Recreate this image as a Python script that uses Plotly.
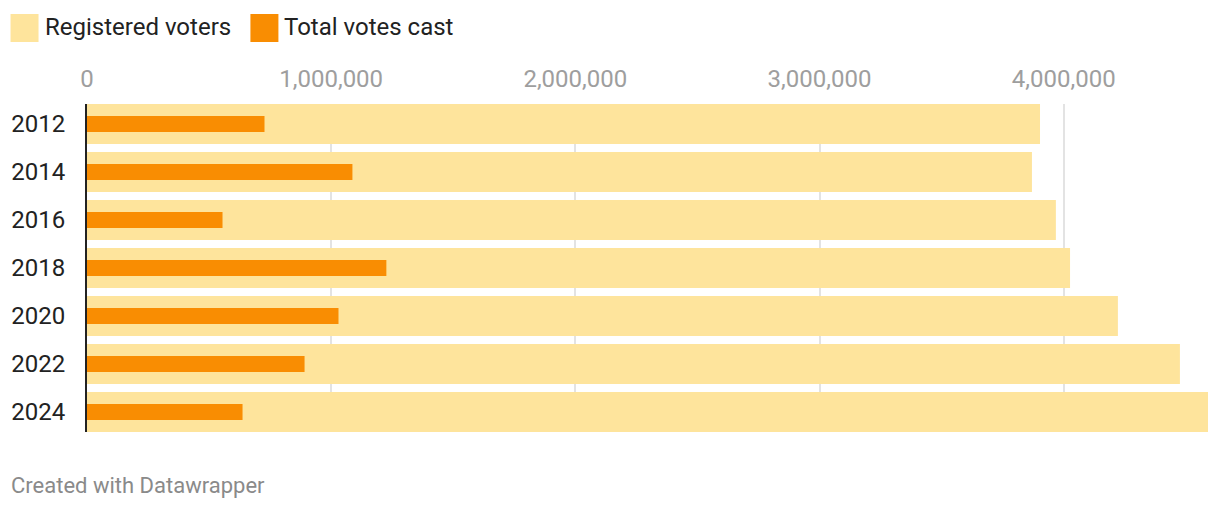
import plotly.graph_objects as go

years = ["2012", "2014", "2016", "2018", "2020", "2022", "2024"]
registered = [3903000, 3870000, 3968000, 4026000, 4222000, 4476000, 4591000]
votes_cast = [727000, 1087000, 555000, 1226000, 1030000, 891000, 637000]
tick_vals = [0, 1000000, 2000000, 3000000, 4000000]

light = "#fee49c"
dark = "#f98d02"

fig = go.Figure()
fig.add_trace(go.Bar(
    y=years, x=registered, orientation="h", name="Registered voters",
    marker=dict(color=light, line=dict(width=0)), width=0.833,
))
fig.add_trace(go.Bar(
    y=years, x=votes_cast, orientation="h", name="Total votes cast",
    marker=dict(color=dark, line=dict(width=0)), width=0.333,
))

# page sits 8px in from the window edge, plot area is 86.5..1208 x 104..432 on screen
PW, PH = 1121.5, 328
def px(x):
    return (x - 86.5) / PW
def py(y):
    return (432 - y) / PH

# legend drawn by hand so the swatches are the big squares of the original
legend_items = [("Registered voters", light, 10), ("Total votes cast", dark, 250)]
for label, col, x0 in legend_items:
    fig.add_shape(type="rect", xref="paper", yref="paper",
                  x0=px(x0), x1=px(x0 + 28), y0=py(42), y1=py(14),
                  fillcolor=col, line=dict(width=0), layer="above")
    fig.add_annotation(text=label, xref="paper", yref="paper",
                       x=px(x0 + 33), y=py(27),
                       xanchor="left", yanchor="middle", showarrow=False,
                       borderpad=0, font=dict(size=24, color="#222222"))

fig.add_annotation(text="Created with Datawrapper", xref="paper", yref="paper",
                   x=px(9), y=py(485),
                   xanchor="left", yanchor="middle", showarrow=False,
                   borderpad=0, font=dict(size=22, color="#8a8a8a"))

fig.update_layout(
    width=1212, height=502,
    margin=dict(l=78.5, r=12, t=96, b=78),
    barmode="overlay",
    showlegend=False,
    plot_bgcolor="white", paper_bgcolor="white",
    font=dict(family="Roboto", size=24, color="#222222"),
    xaxis=dict(
        side="top", range=[0, max(registered)], tickvals=tick_vals,
        tickformat=",", showgrid=True, gridcolor="#e3e3e3", gridwidth=2,
        zeroline=False, showline=False, ticks="", automargin=False,
        tickfont=dict(size=24, color="#9e9e9e"), ticklabelstandoff=11,
        fixedrange=True,
    ),
    yaxis=dict(
        type="category", categoryorder="array", categoryarray=years,
        range=[6.4167, -0.4167], showgrid=False, zeroline=False,
        showline=True, linecolor="#222222", linewidth=2, automargin=False,
        ticks="", ticklabelstandoff=15, tickfont=dict(size=24, color="#222222"),
        fixedrange=True,
    ),
)

fig.write_html("out.html")
